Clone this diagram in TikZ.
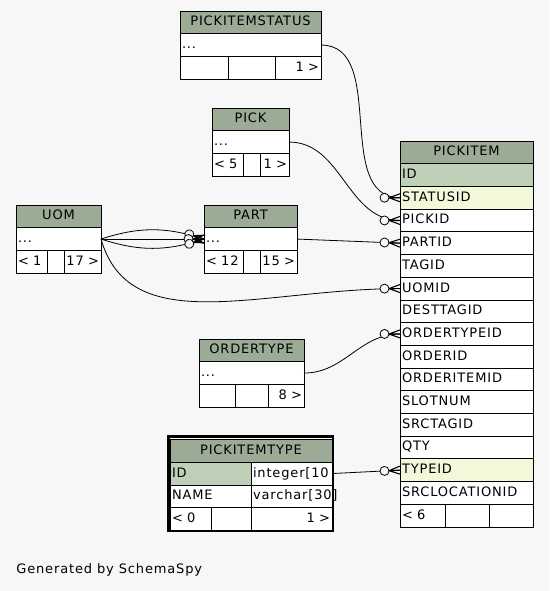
\documentclass[tikz,border=0pt]{standalone}
\usepackage{fontspec}
\setmainfont{DejaVu Sans}[LetterSpace=6.5]
\usetikzlibrary{positioning,decorations.markings}
\definecolor{hdrgreen}{RGB}{156,171,150}
\definecolor{idgreen}{RGB}{190,208,184}
\definecolor{fkyellow}{RGB}{244,247,218}
\definecolor{canvas}{RGB}{247,247,247}
\tikzset{
  cell/.style={draw, anchor=north west, outer sep=0pt, inner xsep=2pt, inner ysep=0pt,
    minimum height=22.7pt, text height=10pt, text depth=3pt, fill=white, align=left},
  hdr/.style={cell, fill=hdrgreen, align=center},
  idrow/.style={cell, fill=idgreen},
  fkrow/.style={cell, fill=fkyellow},
  rt/.style={cell, align=right},
  crowfoot/.style={postaction={decorate}, decoration={markings, mark=at position 0.9999 with {
      \draw[line width=1.1pt] (-11pt,0pt) -- (0pt,-4pt) (-11pt,0pt) -- (0pt,0pt) (-11pt,0pt) -- (0pt,4pt);
      \draw[fill=canvas] (-15.5pt,0pt) circle (4.5pt);}}},
}
\begin{document}
\begin{tikzpicture}[x=1pt, y=-1pt, line width=0.8pt, font=\fontsize{13}{15}\selectfont]
\fill[canvas] (0,0) rectangle (549,591);
%
% PICKITEMSTATUS
\node[hdr, text width=137pt] (pis) at (180,11) {PICKITEMSTATUS};
\node[cell, text width=137pt, below=0pt of pis] (pis-more) {...};
\node[cell, text width=44pt] (pis-in) at (pis-more.south west) {};
\node[cell, text width=43pt, right=0pt of pis-in] (pis-mid) {};
\node[rt, text width=42pt, right=0pt of pis-mid] (pis-out) {1 >};
% PICK
\node[hdr, text width=73pt] (pick) at (212,108) {PICK};
\node[cell, text width=73pt, below=0pt of pick] (pick-more) {...};
\node[cell, text width=27pt] (pick-in) at (pick-more.south west) {< 5};
\node[cell, text width=13pt, right=0pt of pick-in] (pick-mid) {};
\node[rt, text width=25pt, right=0pt of pick-mid] (pick-out) {1 >};
% UOM
\node[hdr, text width=81pt] (uom) at (16,205) {UOM};
\node[cell, text width=81pt, below=0pt of uom] (uom-more) {...};
\node[cell, text width=27pt] (uom-in) at (uom-more.south west) {< 1};
\node[cell, text width=13pt, right=0pt of uom-in] (uom-mid) {};
\node[rt, text width=33pt, right=0pt of uom-mid] (uom-out) {17 >};
% PART
\node[hdr, text width=89pt] (part) at (204,205) {PART};
\node[cell, text width=89pt, below=0pt of part] (part-more) {...};
\node[cell, text width=35pt] (part-in) at (part-more.south west) {< 12};
\node[cell, text width=13pt, right=0pt of part-in] (part-mid) {};
\node[rt, text width=33pt, right=0pt of part-mid] (part-out) {15 >};
% ORDERTYPE
\node[hdr, text width=101pt] (ot) at (199,339) {ORDERTYPE};
\node[cell, text width=101pt, below=0pt of ot] (ot-more) {...};
\node[cell, text width=32pt] (ot-in) at (ot-more.south west) {};
\node[cell, text width=29pt, right=0pt of ot-in] (ot-mid) {};
\node[rt, text width=32pt, right=0pt of ot-mid] (ot-out) {8 >};
% PICKITEMTYPE
\draw[line width=2.5pt, fill=white] (168.5,436.5) rectangle (333,531);
\node[hdr, text width=158pt] (pit) at (170,439.5) {PICKITEMTYPE};
\node[idrow, text width=77pt] (pit-id) at (pit.south west) {ID};
\node[cell, text width=77pt, right=0pt of pit-id] (pit-type) {integer[10};
\node[cell, text width=77pt] (pit-name) at (pit-id.south west) {NAME};
\node[cell, text width=77pt, right=0pt of pit-name] (pit-len) {varchar[30]};
\node[cell, text width=37pt] (pit-in) at (pit-name.south west) {< 0};
\node[cell, text width=36pt, right=0pt of pit-in] (pit-mid) {};
\node[rt, text width=77pt, right=0pt of pit-mid] (pit-out) {1 >};
% PICKITEM
\node[hdr, text width=129pt] (pi) at (400,141) {PICKITEM};
\node[idrow, text width=129pt, below=0pt of pi] (pi-id) {ID};
\node[fkrow, text width=129pt, below=0pt of pi-id] (pi-statusid) {STATUSID};
\node[cell, text width=129pt, below=0pt of pi-statusid] (pi-pickid) {PICKID};
\node[cell, text width=129pt, below=0pt of pi-pickid] (pi-partid) {PARTID};
\node[cell, text width=129pt, below=0pt of pi-partid] (pi-tagid) {TAGID};
\node[cell, text width=129pt, below=0pt of pi-tagid] (pi-uomid) {UOMID};
\node[cell, text width=129pt, below=0pt of pi-uomid] (pi-desttagid) {DESTTAGID};
\node[cell, text width=129pt, below=0pt of pi-desttagid] (pi-ordertypeid) {ORDERTYPEID};
\node[cell, text width=129pt, below=0pt of pi-ordertypeid] (pi-orderid) {ORDERID};
\node[cell, text width=129pt, below=0pt of pi-orderid] (pi-orderitemid) {ORDERITEMID};
\node[cell, text width=129pt, below=0pt of pi-orderitemid] (pi-slotnum) {SLOTNUM};
\node[cell, text width=129pt, below=0pt of pi-slotnum] (pi-srctagid) {SRCTAGID};
\node[cell, text width=129pt, below=0pt of pi-srctagid] (pi-qty) {QTY};
\node[fkrow, text width=129pt, below=0pt of pi-qty] (pi-typeid) {TYPEID};
\node[cell, text width=129pt, below=0pt of pi-typeid] (pi-srclocationid) {SRCLOCATIONID};
\node[cell, text width=41pt] (pi-in) at (pi-srclocationid.south west) {< 6};
\node[cell, text width=40pt, right=0pt of pi-in] (pi-mid) {};
\node[cell, text width=40pt, right=0pt of pi-mid] (pi-out) {};
%
% relations
\draw[crowfoot] (pis-more.east) to[out=0, in=180] (pi-statusid.west);
\draw[crowfoot] (pick-more.east) to[out=0, in=180] (pi-pickid.west);
\draw[crowfoot] (part-more.east) -- (pi-partid.west);
\draw[crowfoot] (uom-more.east) .. controls (130,340) and (260,289) .. (pi-uomid.west);
\draw[crowfoot] (uom-more.east) to[bend left=18] (part-more.west);
\draw[crowfoot] (uom-more.east) -- (part-more.west);
\draw[crowfoot] (uom-more.east) to[bend right=18] (part-more.west);
\draw[crowfoot] (ot-more.east) to[out=0, in=180] (pi-ordertypeid.west);
\draw[crowfoot] (pit-type.east) -- (pi-typeid.west);
%
\node[anchor=base west, inner sep=0pt] (gen) at (16,573) {Generated by SchemaSpy};
\end{tikzpicture}
\end{document}
